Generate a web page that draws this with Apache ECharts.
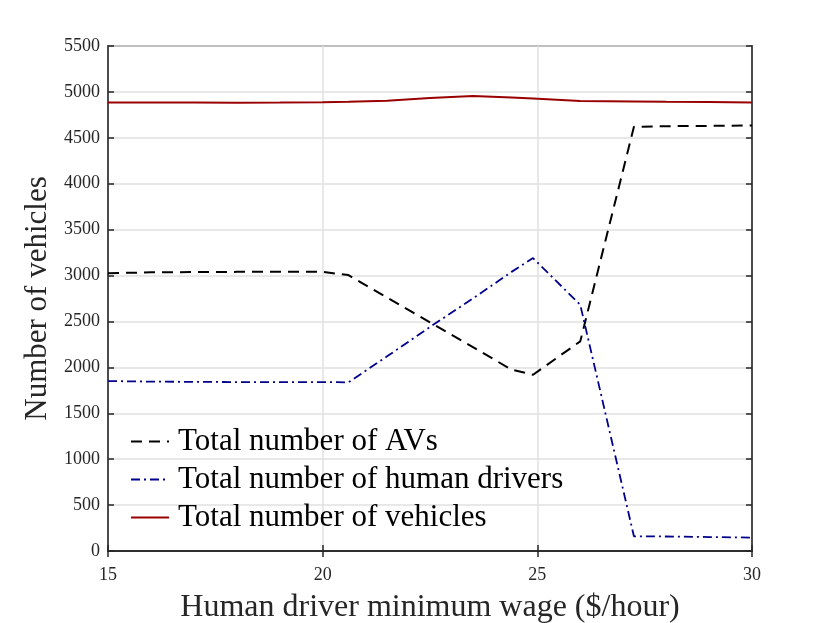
<!DOCTYPE html>
<html><head><meta charset="utf-8">
<script src="https://cdn.jsdelivr.net/npm/echarts@6/dist/echarts.min.js"></script>
<style>html,body{margin:0;padding:0;background:#fff}#c{width:830px;height:623px}</style>
</head><body><div id="c"></div>
<script>
var wage = [15, 16, 17, 18, 19, 20, 20.6, 21.5, 22.5, 23.5, 24.4, 24.9, 26, 27.25, 28, 29, 30];
var avs = [3025, 3035, 3038, 3040, 3040, 3040, 3005, 2760, 2490, 2220, 1975, 1920, 2283, 4620, 4627, 4630, 4634];
var humans = [1851, 1845, 1842, 1840, 1840, 1840, 1837, 2120, 2440, 2750, 3040, 3190, 2681, 160, 158, 152, 146];
var vehicles = [4885, 4885, 4884, 4882, 4884, 4888, 4893, 4905, 4935, 4955, 4940, 4928, 4902, 4896, 4893, 4890, 4886];
var xTicks = [15, 20, 25, 30];
var names = ['Total number of AVs', 'Total number of human drivers', 'Total number of vehicles'];

function pairs(ys){ return wage.map(function(x,i){ return [x, ys[i]]; }); }
var font = '"Liberation Serif", "Times New Roman", serif';
var chart = echarts.init(document.getElementById('c'));
chart.setOption({
  animation: false,
  grid: {left: 108, right: 78, top: 46, bottom: 72, show: true, borderColor: '#262626', borderWidth: 1.5, backgroundColor: 'transparent', outerBoundsMode: 'none', containLabel: false},
  legend: {
    orient: 'vertical', left: 130, top: 425, padding: 0, itemWidth: 38, itemHeight: 14, itemGap: 5,
    textStyle: {fontFamily: font, fontSize: 31, lineHeight: 33, color: '#000', padding: [0, 0, 0, 4]},
    itemStyle: {opacity: 0},
    data: names
  },
  xAxis: [{
    type: 'value', min: 15, max: 30, interval: 5,
    name: 'Human driver minimum wage ($/hour)', nameLocation: 'middle', nameGap: 41,
    nameTextStyle: {fontFamily: font, fontSize: 32, color: '#262626'},
    axisLine: {show: true, lineStyle: {color: '#262626', width: 1.5}},
    axisTick: {show: true, inside: true, length: 6, lineStyle: {color: '#262626', width: 1.5}},
    axisLabel: {fontFamily: font, fontSize: 18, color: '#262626', margin: 15},
    splitLine: {show: true, lineStyle: {color: '#e0e0e0', width: 1.5}}
  }, {
    type: 'value', min: 15, max: 30, interval: 5, position: 'top',
    axisLine: {show: true, lineStyle: {color: '#262626', width: 1.5}},
    axisTick: {show: true, inside: true, length: 6, lineStyle: {color: '#262626', width: 1.5}},
    axisLabel: {show: false}, splitLine: {show: false}
  }],
  yAxis: [{
    type: 'value', min: 0, max: 5500, interval: 500,
    name: 'Number of vehicles', nameLocation: 'middle', nameGap: 53,
    nameTextStyle: {fontFamily: font, fontSize: 31, color: '#262626'},
    axisLine: {show: true, lineStyle: {color: '#262626', width: 1.5}},
    axisTick: {show: true, inside: true, length: 6, lineStyle: {color: '#262626', width: 1.5}},
    axisLabel: {fontFamily: font, fontSize: 18, color: '#262626', margin: 8, formatter: function(v){ return String(v); }},
    splitLine: {show: true, lineStyle: {color: '#e0e0e0', width: 1.5}}
  }, {
    type: 'value', min: 0, max: 5500, interval: 500, position: 'right',
    axisLine: {show: true, lineStyle: {color: '#262626', width: 1.5}},
    axisTick: {show: true, inside: true, length: 6, lineStyle: {color: '#262626', width: 1.5}},
    axisLabel: {show: false}, splitLine: {show: false}
  }],
  series: [
    {name: names[0], type: 'line', data: pairs(avs), symbol: 'none', color: '#000',
     lineStyle: {color: '#000', width: 2, type: [11, 7]}},
    {name: names[1], type: 'line', data: pairs(humans), symbol: 'none', color: '#00008b',
     lineStyle: {color: '#00008b', width: 1.8, type: [9, 4, 2, 4]}},
    {name: names[2], type: 'line', data: pairs(vehicles), symbol: 'none', color: '#990000',
     lineStyle: {color: '#990000', width: 2}}
  ]
});
</script></body></html>
